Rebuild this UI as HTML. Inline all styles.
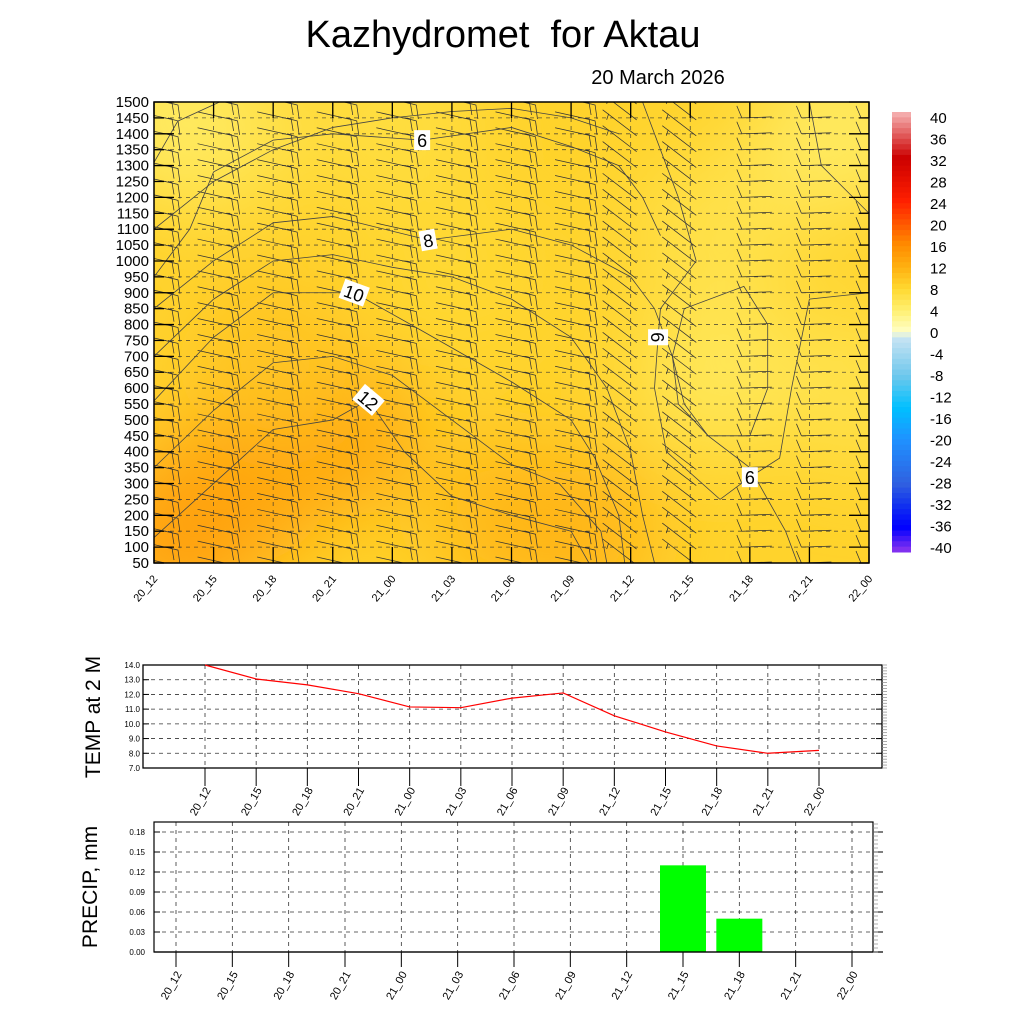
<!DOCTYPE html>
<html><head><meta charset="utf-8">
<style>
html,body{margin:0;padding:0;background:#fff;}
body{width:1024px;height:1024px;overflow:hidden;font-family:"Liberation Sans",Arial,sans-serif;}
text{font-family:"Liberation Sans",Arial,sans-serif;white-space:pre;}
</style></head>
<body>
<svg id="svg" width="1024" height="1024" viewBox="0 0 1024 1024" xmlns="http://www.w3.org/2000/svg">
<defs>
<clipPath id="clipMain"><rect x="154" y="102" width="715" height="461"/></clipPath>
<filter id="blur" x="-50%" y="-50%" width="200%" height="200%"><feGaussianBlur stdDeviation="40"/></filter>
</defs>
<text x="503" y="47" font-size="38" text-anchor="middle" xml:space="preserve">Kazhydromet  for Aktau</text>
<text x="658" y="84" font-size="20" text-anchor="middle">20 March 2026</text>
<g id="main"></g>
<g id="cbar"></g>
<g id="temp"></g>
<g id="prec"></g>
</svg>
<script>
const times=["20_12","20_15","20_18","20_21","21_00","21_03","21_06","21_09","21_12","21_15","21_18","21_21","22_00"];
const levels=[50,100,150,200,250,300,350,400,450,500,550,600,650,700,750,800,850,900,950,1000,1050,1100,1150,1200,1250,1300,1350,1400,1450,1500];
const tempValues=[14.0,13.05,12.65,12.05,11.15,11.1,11.75,12.1,10.55,9.45,8.5,8.0,8.2];
const tempTicks=[7,8,9,10,11,12,13,14];
const precipValues=[0,0,0,0,0,0,0,0,0,0.13,0.05,0,0];
const precipTicks=[0,0.03,0.06,0.09,0.12,0.15,0.18];
const cbarTicks=[40,36,32,28,24,20,16,12,8,4,0,-4,-8,-12,-16,-20,-24,-28,-32,-36,-40];
const fieldT=[0.5,1.5,3,6,7,2,1,5,9.5,9.5,11.5,12,4,0.2];
const fieldL=[150,300,450,200,150,700,1400,1000,650,1100,1400,600,1450,1450];
const fieldV=[14,13.5,13,11,11.5,10,6,8,5.5,6.5,5,6.5,7,5];
const contourLevels=[6,8,10,12,6,6,7,7,9,11,7];
const contourT=[
 [0,0.6,1,2,3,4.5,6,7,7.8,8.2,8.5],
 [0,1,2,3,4.6,6,7,8,8.4,8.7,8.9,9.3,10,10.6,10.8],
 [0,1,2,3.36,4.5,6,7,7.4,7.8,7.9],
 [0,1,2,3,3.6,4.2,5,6,7,7.3],
 [8.7,8.9,9.9,10.3,10.3,10,9.3,8.8,8.7],
 [8.2,8.8,9.1,8.5,8.46,8.4,8.6,9.5,10,10.5,10.7,11,12],
 [0,0.4,1.1],
 [11,11.2,12],
 [0,1,2,3,4,5,6,7,7.6,8,8.2,8.4],
 [0,1,2,3,4,5,6,6.8,7.5,7.6],
 [0,1,2,3,4,5,6,7,7.8]
];
const contourL=[
 [950,1100,1280,1380,1400,1380,1420,1360,1300,1200,1080],
 [850,1000,1120,1140,1066,1100,1050,950,850,700,550,450,350,150,50],
 [560,760,900,900,780,620,500,380,200,50],
 [130,300,470,500,563,400,260,200,150,50],
 [700,850,920,800,600,450,450,550,700],
 [1500,1200,1000,850,760,600,400,250,320,380,600,880,900],
 [1310,1440,1500],
 [1500,1300,1150],
 [700,880,1000,1020,980,950,880,760,600,400,200,50],
 [350,530,680,700,640,500,360,300,150,50],
 [1100,1250,1350,1420,1450,1470,1480,1450,1400]
];
const labelT=[4.5,4.6,3.36,3.6,10,8.46];
const labelL=[1380,1066,900,563,320,760];
const labelV=["6","8","10","12","6","6"];
const labelRot=[0,-10,20,40,0,90];
// barb style per column: 0 = NW hooked, 1 = steep diagonal, 2 = westerly flat
const barbType=[0,0,0,0,0,0,0,0,1,1,2,2,2];

const NS="http://www.w3.org/2000/svg";
function mk(tag,attrs,parent){const e=document.createElementNS(NS,tag);for(const k in attrs)e.setAttribute(k,attrs[k]);parent.appendChild(e);return e;}
const stops=[[-40,[128,48,240]],[-36,[0,0,255]],[-32,[16,48,240]],[-28,[48,96,224]],[-20,[32,144,255]],[-14,[0,192,255]],[-8,[112,200,236]],[-1,[200,228,244]],[0,[255,255,200]],[4,[255,240,112]],[8,[255,216,48]],[12,[255,176,16]],[16,[255,140,0]],[24,[255,32,0]],[32,[204,0,0]],[40,[244,170,170]]];
function col(v){v=Math.max(-40,Math.min(40,v));for(let i=0;i<stops.length-1;i++){const a=stops[i],b=stops[i+1];if(v>=a[0]&&v<=b[0]){const f=(v-a[0])/(b[0]-a[0]);const c=a[1].map((x,j)=>Math.round(x+(b[1][j]-x)*f));return `rgb(${c[0]},${c[1]},${c[2]})`;}}return "#fff";}

const X0=154,X1=869,Y0=102,Y1=563;
const xs=i=>X0+i*(X1-X0)/12;
const ys=l=>Y1-(l-50)/1450*(Y1-Y0);
const main=document.getElementById('main');
const bg=mk('g',{'clip-path':'url(#clipMain)'},main);
const bgr=mk('rect',{x:X0,y:Y0,width:X1-X0,height:Y1-Y0,fill:col(8.5)},bg);


const fg=mk('g',{filter:'url(#blur)'},bg);
fieldT.forEach((t,i)=>{const e=mk('ellipse',{cx:xs(t),cy:ys(fieldL[i]),rx:85,ry:80,fill:col(fieldV[i])},fg);
 
 });
const grid=mk('g',{stroke:'#333','stroke-width':0.8,'stroke-dasharray':'4,4',opacity:0.8},main);
levels.forEach(l=>{if(l>50&&l<1500)mk('line',{x1:X0,x2:X1,y1:ys(l),y2:ys(l)},grid);});
times.forEach((t,i)=>{if(i>0&&i<12)mk('line',{x1:xs(i),x2:xs(i),y1:Y0,y2:Y1},grid);});
const bg2=mk('g',{stroke:'#333','stroke-width':0.75,fill:'none','clip-path':'url(#clipMain)'},main);
times.forEach((t,i)=>{levels.forEach(l=>{
 const x=xs(i),y=ys(l),ty=barbType[i];
 let d;
 if(ty===0){d=`M${x-16},${y-6}L${x+20},${y+2}l4,1l2,14M${x+14},${y}l4,1l2,12`;}
 else if(ty===1){d=`M${x-28},${y-24}L${x+6},${y+2}M${x-22},${y-20}l-2,6`;}
 else{d=`M${x-8},${y}L${x+22},${y-1}M${x-8},${y}l-5,-12`;}
 const p=mk('path',{d:d},bg2);
 
 
});});
const cg=mk('g',{stroke:'#444','stroke-width':0.8,fill:'none','clip-path':'url(#clipMain)'},main);
contourT.forEach((arr,k)=>{const d=arr.map((t,j)=>(j?'L':'M')+xs(t)+','+ys(contourL[k][j])).join('');
 const p=mk('path',{d:d},cg);
 
 });
labelT.forEach((t,i)=>{const x=xs(t),y=ys(labelL[i]);
 const g=mk('g',{transform:`translate(${x},${y}) rotate(${labelRot[i]})`},main);
 
 
 const w=labelV[i].length*10+6;
 mk('rect',{x:-w/2,y:-10,width:w,height:20,fill:'#fff'},g);
 const tx=mk('text',{x:0,y:7,'font-size':18,'text-anchor':'middle'},g);tx.textContent=labelV[i];});
mk('rect',{x:X0,y:Y0,width:X1-X0,height:Y1-Y0,fill:'none',stroke:'#000','stroke-width':1.5},main);
levels.forEach(l=>{const y=ys(l);
 mk('line',{x1:X0,x2:X0+(l%100===0?20:10),y1:y,y2:y,stroke:'#000','stroke-width':1.3},main);
 mk('line',{x1:X1,x2:X1-(l%100===0?20:10),y1:y,y2:y,stroke:'#000','stroke-width':1.3},main);
 const t=mk('text',{x:X0-5,y:y+5,'font-size':15,'text-anchor':'end'},main);t.textContent=l;
 
 });
times.forEach((s,i)=>{const x=xs(i);
 mk('line',{x1:x,x2:x,y1:Y1,y2:Y1-16,stroke:'#000','stroke-width':1.3},main);
 mk('line',{x1:x,x2:x,y1:Y0,y2:Y0+16,stroke:'#000','stroke-width':1.3},main);
 const t=mk('text',{transform:`translate(${x+4},${Y1+16}) rotate(-50)`,'font-size':11,'text-anchor':'end'},main);t.textContent=s;
 
 });

const cb=document.getElementById('cbar');
const CB0=112,CB1=552,n=82;
for(let k=0;k<n;k++){const v=40-k*80/(n-1);
 const r=mk('rect',{x:892,y:CB0+k*(CB1-CB0)/n,width:19,height:(CB1-CB0)/n+0.5,fill:col(v)},cb);
 
 }
cbarTicks.forEach((v,i)=>{const y=117+(547-117)*(40-v)/80;
 const t=mk('text',{x:930,y:y+6,'font-size':15},cb);t.textContent=v;
 
 });

const tg=document.getElementById('temp');
const TX0=143,TX1=882,TY0=665,TY1=768;
const txs=i=>205+i*(819-205)/12;
const tys=v=>TY1-(v-7)/7*(TY1-TY0);
const tgrid=mk('g',{stroke:'#333','stroke-width':0.8,'stroke-dasharray':'4,4'},tg);
tempTicks.forEach(v=>{if(v>7&&v<14)mk('line',{x1:TX0,x2:TX1,y1:tys(v),y2:tys(v)},tgrid);});
times.forEach((s,i)=>mk('line',{x1:txs(i),x2:txs(i),y1:TY0,y2:TY1},tgrid));
mk('rect',{x:TX0,y:TY0,width:TX1-TX0,height:TY1-TY0,fill:'none',stroke:'#000','stroke-width':1.3},tg);
tempTicks.forEach(v=>{const y=tys(v);
 mk('line',{x1:TX0,x2:TX0+6,y1:y,y2:y,stroke:'#000'},tg);
 mk('line',{x1:TX1,x2:TX1-6,y1:y,y2:y,stroke:'#000'},tg);
 const t=mk('text',{x:TX0-3,y:y+3,'font-size':8,'text-anchor':'end'},tg);t.textContent=v.toFixed(1);
 
 });
for(let v=7;v<=14;v+=0.2){const y=tys(v);mk('line',{x1:TX1,x2:TX1+5,y1:y,y2:y,stroke:'#888','stroke-width':0.7},tg);}
times.forEach((s,i)=>{const x=txs(i);
 mk('line',{x1:x,x2:x,y1:TY1,y2:TY1+18,stroke:'#000'},tg);
 const t=mk('text',{transform:`translate(${x+6},${TY1+22}) rotate(-60)`,'font-size':11,'text-anchor':'end'},tg);t.textContent=s;
 
 });
const tl=mk('polyline',{points:tempValues.map((v,i)=>txs(i)+','+tys(v)).join(' '),fill:'none',stroke:'#f00','stroke-width':1.2},tg);


const tt=mk('text',{transform:'translate(100,717) rotate(-90)','font-size':21,'text-anchor':'middle'},tg);tt.textContent='TEMP at 2 M';



const pg=document.getElementById('prec');
const PX0=154,PX1=873,PY0=822,PY1=952;
const pxs=i=>176+i*(852-176)/12;
const pys=v=>PY1-v/0.03*20;
const pgrid=mk('g',{stroke:'#333','stroke-width':0.8,'stroke-dasharray':'4,4'},pg);
precipTicks.forEach(v=>{if(v>0)mk('line',{x1:PX0,x2:PX1,y1:pys(v),y2:pys(v)},pgrid);});
times.forEach((s,i)=>mk('line',{x1:pxs(i),x2:pxs(i),y1:PY0,y2:PY1},pgrid));
precipValues.forEach((v,i)=>{if(v>0){const r=mk('rect',{x:pxs(i)-23,y:pys(v),width:46,height:PY1-pys(v),fill:'#00ff00'},pg);
 
 }});
mk('rect',{x:PX0,y:PY0,width:PX1-PX0,height:PY1-PY0,fill:'none',stroke:'#000','stroke-width':1.2},pg);
mk('line',{x1:PX0,x2:PX1+10,y1:PY1,y2:PY1,stroke:'#000','stroke-width':1.3},pg);
precipTicks.forEach(v=>{const y=pys(v);
 mk('line',{x1:PX0,x2:PX0+6,y1:y,y2:y,stroke:'#000'},pg);
 mk('line',{x1:PX1,x2:PX1+10,y1:y,y2:y,stroke:'#000'},pg);
 const t=mk('text',{x:PX0-9,y:y+3,'font-size':8,'text-anchor':'end'},pg);t.textContent=v.toFixed(2);
 
 });
for(let v=0;v<=0.195;v+=0.006){const y=pys(v);mk('line',{x1:PX1,x2:PX1+5,y1:y,y2:y,stroke:'#888','stroke-width':0.7},pg);}
times.forEach((s,i)=>{const x=pxs(i);
 mk('line',{x1:x,x2:x,y1:PY1,y2:PY1+15,stroke:'#000'},pg);
 const t=mk('text',{transform:`translate(${x+6},${PY1+22}) rotate(-60)`,'font-size':11,'text-anchor':'end'},pg);t.textContent=s;
 
 });
const pt=mk('text',{transform:'translate(97,887) rotate(-90)','font-size':21,'text-anchor':'middle'},pg);pt.textContent='PRECIP, mm';


</script>
</body></html>
